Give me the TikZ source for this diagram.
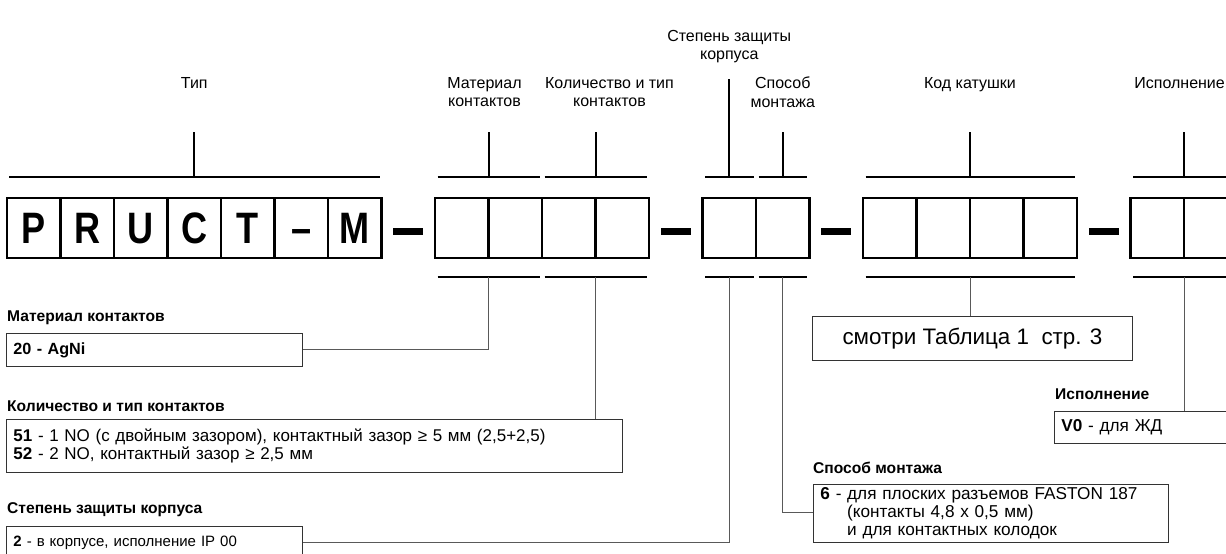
\documentclass[tikz,border=0pt]{standalone}
\usepackage{fontspec}
\setmainfont{Liberation Sans}
\newfontfamily\cellfont[FakeStretch=0.82]{Liberation Sans}
\usetikzlibrary{positioning, calc}

\begin{document}
\begin{tikzpicture}[x=1pt,y=-1pt,font=\fontsize{15.6}{18.5}\selectfont]

	\tikzset{cell/.style={draw, line width=2.8pt,
			minimum width=53.5pt, minimum height=60pt,
			inner sep=0pt, outer sep=0pt,
			text height=31.5pt, text depth=0pt,
			font=\cellfont\bfseries\fontsize{44}{44}\selectfont}}
	\tikzset{sep bar/.style={fill, minimum width=30pt,
			minimum height=7pt, inner sep=0pt}}
	\tikzset{rule/.style={line width=2pt}}
	\tikzset{conn/.style={draw=black!65, line width=1pt}}
	\tikzset{lbl/.style={anchor=north, align=center, inner sep=0pt,
			font=\fontsize{16}{18.5}\selectfont}}
	\tikzset{head/.style={anchor=west, inner sep=0pt,
			font=\bfseries\fontsize{15.6}{18.5}\selectfont}}
	\tikzset{info/.style={draw=black!80, line width=0.9pt,
			anchor=north west, align=left,
			inner xsep=7pt, inner ysep=0pt}}

	\path[use as bounding box, fill=white] (0,0) rectangle (1226,554);
	\clip (0,0) rectangle (1226,554);

	% code cells
	\node[cell] (typ1) at (33.75,228) {P};
	\node[cell, right=0pt of typ1] (typ2) {R};
	\node[cell, right=0pt of typ2] (typ3) {U};
	\node[cell, right=0pt of typ3] (typ4) {C};
	\node[cell, right=0pt of typ4] (typ5) {T};
	\node[cell, right=0pt of typ5] (typ6) {–};
	\node[cell, right=0pt of typ6] (typ7) {M};
	\node[sep bar, right=11.75pt of typ7, yshift=-3pt] (dash1) {};

	\node[cell, right=53.5pt of typ7] (mat1) {};
	\node[cell, right=0pt of mat1] (mat2) {};
	\node[cell, right=0pt of mat2] (kol1) {};
	\node[cell, right=0pt of kol1] (kol2) {};
	\node[sep bar, right=11.75pt of kol2, yshift=-3pt] (dash2) {};

	\node[cell, right=53.5pt of kol2] (ip1) {};
	\node[cell, right=0pt of ip1] (mnt1) {};
	\node[sep bar, right=11.75pt of mnt1, yshift=-3pt] (dash3) {};

	\node[cell, right=53.5pt of mnt1] (kod1) {};
	\node[cell, right=0pt of kod1] (kod2) {};
	\node[cell, right=0pt of kod2] (kod3) {};
	\node[cell, right=0pt of kod3] (kod4) {};
	\node[sep bar, right=11.75pt of kod4, yshift=-3pt] (dash4) {};

	\node[cell, right=53.5pt of kod4] (isp1) {};
	\node[cell, right=0pt of isp1] (isp2) {};

	% labels above
	\node[lbl] (lTyp) at (typ4.north |- 0,77) {Тип};
	\node[lbl, xshift=-4pt] (lMat) at (mat1.north east |- 0,77) {Материал\\контактов};
	\node[lbl, xshift=14pt] (lKol) at (kol1.north east |- 0,77) {Количество и тип\\контактов};
	\node[lbl] (lIP) at (ip1.north |- 0,30) {Степень защиты\\корпуса};
	\node[lbl] (lMnt) at (mnt1.north |- 0,77) {Способ\\монтажа};
	\node[lbl] (lKod) at (kod2.north east |- 0,77) {Код катушки};
	\node[lbl, anchor=north east] (lIsp) at (1225,77) {Исполнение};

	% brackets above
	\draw[rule] ($(typ1.north west)+(2,-21)$) -- ($(typ7.north east)+(-2,-21)$);
	\draw[rule] ($(typ4.north)+(0,-21)$) -- ++(0,-45);
	\draw[rule] ($(mat1.north west)+(2.5,-21)$) -- ($(mat2.north east)+(-2.5,-21)$);
	\draw[rule] ($(mat1.north east)+(0,-21)$) -- ++(0,-45);
	\draw[rule] ($(kol1.north west)+(2.5,-21)$) -- ($(kol2.north east)+(-2.5,-21)$);
	\draw[rule] ($(kol1.north east)+(0,-21)$) -- ++(0,-45);
	\draw[rule] ($(ip1.north west)+(2.5,-21)$) -- ($(ip1.north east)+(-2.5,-21)$);
	\draw[rule] ($(ip1.north)+(0,-21)$) -- ++(0,-98);
	\draw[rule] ($(mnt1.north west)+(2.5,-21)$) -- ($(mnt1.north east)+(-2.5,-21)$);
	\draw[rule] ($(mnt1.north)+(0,-21)$) -- ++(0,-45);
	\draw[rule] ($(kod1.north west)+(2.5,-21)$) -- ($(kod4.north east)+(-2.5,-21)$);
	\draw[rule] ($(kod2.north east)+(0,-21)$) -- ++(0,-45);
	\draw[rule] ($(isp1.north west)+(2.5,-21)$) -- ($(isp2.north east)+(-2.5,-21)$);
	\draw[rule] ($(isp1.north east)+(0,-21)$) -- ++(0,-45);

	% brackets below
	\draw[rule] ($(mat1.south west)+(2.5,19)$) -- ($(mat2.south east)+(-2.5,19)$);
	\draw[rule] ($(kol1.south west)+(2.5,19)$) -- ($(kol2.south east)+(-2.5,19)$);
	\draw[rule] ($(ip1.south west)+(2.5,19)$) -- ($(ip1.south east)+(-2.5,19)$);
	\draw[rule] ($(mnt1.south west)+(2.5,19)$) -- ($(mnt1.south east)+(-2.5,19)$);
	\draw[rule] ($(kod1.south west)+(2.5,19)$) -- ($(kod4.south east)+(-2.5,19)$);
	\draw[rule] ($(isp1.south west)+(2.5,19)$) -- ($(isp2.south east)+(-2.5,19)$);

	% legend boxes
	\node[head] (hMat) at (7,318) {Материал контактов};
	\node[info, text width=282pt, minimum height=33pt,
		font=\fontsize{16.2}{18}\selectfont] (bMat) at (6,333)
		{\textbf{20 - AgNi}};
	\node[head] (hKol) at (7,406) {Количество и тип контактов};
	\node[info, text width=602pt, minimum height=53pt,
		font=\fontsize{17}{17.5}\selectfont] (bKol) at (6,419)
		{\textbf{51} - 1 NO (с двойным зазором), контактный зазор ≥ 5 мм (2,5+2,5)\\
		 \textbf{52} - 2 NO, контактный зазор ≥ 2,5 мм};
	\node[head] (hIP) at (7,510) {Степень защиты корпуса};
	\node[info, text width=282pt, minimum height=33pt,
		font=\fontsize{15}{18}\selectfont] (bIP) at (6,526)
		{\textbf{2} - в корпусе, исполнение IP 00};
	\node[info, minimum width=320pt, minimum height=44pt, align=center,
		font=\fontsize{22.4}{26}\selectfont] (bKod) at (812,316)
		{смотри Таблица 1 \ стр. 3};
	\node[head] (hIsp) at (1055,394) {Исполнение};
	\node[info, text width=200pt, minimum height=32pt,
		font=\fontsize{17.2}{18}\selectfont] (bIsp) at (1054,411)
		{\textbf{V0} - для ЖД};
	\node[head] (hMnt) at (813,468) {Способ монтажа};
	\node[info, text width=341pt, inner ysep=3pt, text depth=40pt,
		font=\fontsize{17.2}{18}\selectfont] (bMnt) at (813,484)
		{\textbf{6} - для плоских разъемов FASTON 187\\
		 \phantom{\textbf{6} - }(контакты 4,8 x 0,5 мм)\\
		 \phantom{\textbf{6} - }и для контактных колодок};

	% connectors
	\draw[conn] ($(mat1.south east)+(0,19)$) |- (bMat.east);
	\draw[conn] ($(kol1.south east)+(0,19)$) -- (kol1.south east |- bKol.north);
	\draw[conn] ($(ip1.south)+(0,19)$) |- (bIP.east);
	\draw[conn] ($(mnt1.south)+(0,19)$) |- ($(bMnt.north west)+(0,28)$);
	\draw[conn] ($(kod2.south east)+(0,19)$) -- (kod2.south east |- bKod.north);
	\draw[conn] ($(isp1.south east)+(0,19)$) -- (isp1.south east |- bIsp.north);
\end{tikzpicture}
\end{document}
